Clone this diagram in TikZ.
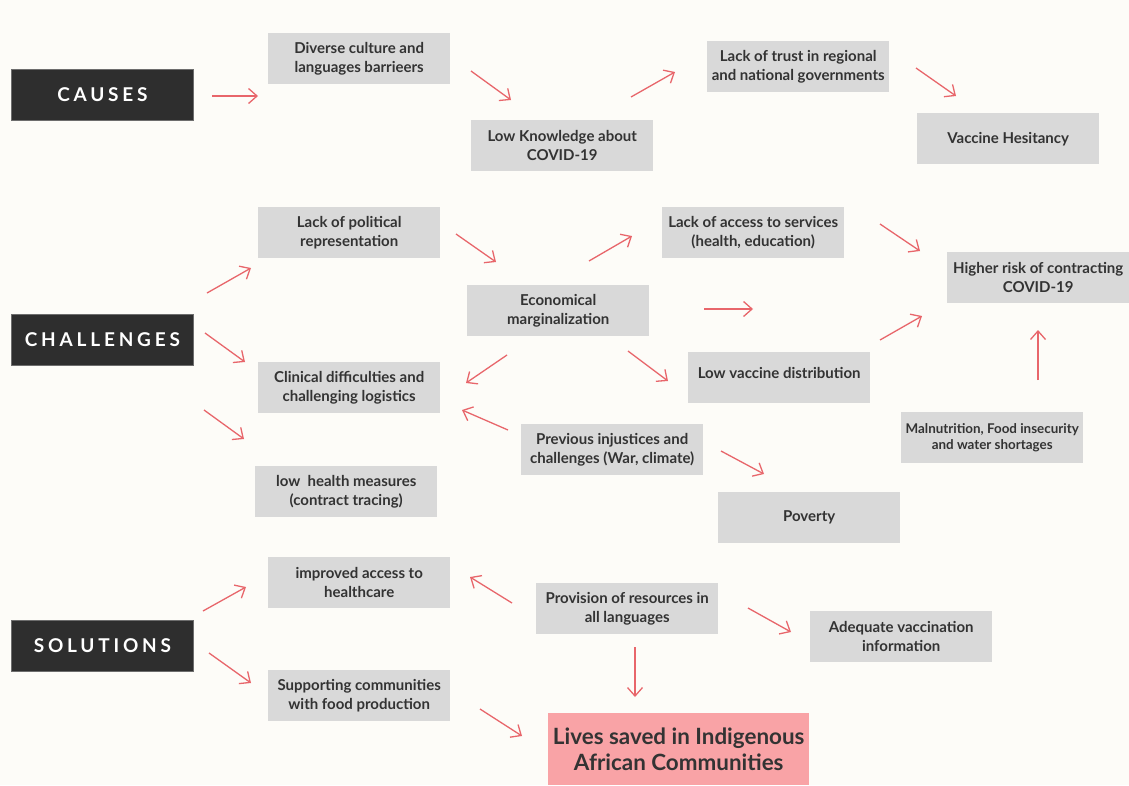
\documentclass[tikz,border=0pt]{standalone}
\usepackage{fontspec}
\setmainfont{Lato}
\newfontfamily\hdrfont[LetterSpace=20]{Lato}
\usetikzlibrary{arrows.meta}
\definecolor{bg}{HTML}{FDFCF8}
\definecolor{boxgray}{HTML}{D9D9D9}
\definecolor{dark}{HTML}{2E2E2E}
\definecolor{txt}{HTML}{333333}
\definecolor{arrred}{HTML}{E8666B}
\definecolor{pinkbox}{HTML}{F9A3A6}
\begin{document}
\begin{tikzpicture}[x=1pt,y=-1pt,
  gbox/.style={fill=boxgray, minimum width=182pt, minimum height=51pt, anchor=north west,
    inner sep=2pt, align=center, text=txt, font=\bfseries\fontsize{15}{18.5}\selectfont},
  smallbox/.style={gbox, font=\bfseries\fontsize{13.4}{16.5}\selectfont},
  hdrbox/.style={fill=dark, draw=dark!70, line width=0.8pt, minimum width=182pt, minimum height=51pt,
    anchor=north west, text=white, font=\hdrfont\bfseries\fontsize{19}{20}\selectfont},
  goalbox/.style={fill=pinkbox, minimum width=261pt, minimum height=72pt, anchor=north west,
    align=center, text=txt, font=\bfseries\fontsize{22.4}{26}\selectfont},
  arr/.style={draw=arrred, line width=1.3pt, -{Straight Barb[length=8.5pt,width=15pt]}}
]
\fill[bg] (0,0) rectangle (1129,785);
\useasboundingbox (0,0) rectangle (1129,785);

% headers
\node[hdrbox] (causes) at (11,69) {CAUSES};
\node[hdrbox] (chall) at (11,314) {CHALLENGES};
\node[hdrbox] (sol) at (11,620) {SOLUTIONS};

% causes
\node[gbox] (div) at (268,33) {Diverse culture and\\languages barrieers};
\node[gbox] (lowk) at (471,120) {Low Knowledge about\\COVID-19};
\node[gbox] (trust) at (707,41) {Lack of trust in regional\\and national governments};
\node[gbox] (vh) at (917,113) {Vaccine Hesitancy};

% challenges
\node[gbox] (lpr) at (258,207) {Lack of political\\representation};
\node[gbox] (econ) at (467,285) {Economical\\marginalization};
\node[gbox] (access) at (662,207) {Lack of access to services\\(health, education)};
\node[gbox] (risk) at (947,252) {Higher risk of contracting\\COVID-19};
\node[gbox] (lvd) at (688,352) {\raisebox{5pt}[\height][\depth]{Low vaccine distribution}};
\node[smallbox] (maln) at (901,412) {Malnutrition, Food insecurity\\and water shortages};
\node[gbox] (clin) at (258,362) {Clinical difficulties and\\challenging logistics};
\node[gbox] (prev) at (521,424) {Previous injustices and\\challenges (War, climate)};
\node[gbox] (pov) at (718,492) {Poverty};
\node[gbox] (lhm) at (255,466) {low\ \ health measures\\(contract tracing)};

% solutions
\node[gbox] (imp) at (268,557) {improved access to\\healthcare};
\node[gbox] (prov) at (536,583) {Provision of resources in\\all languages};
\node[gbox] (adeq) at (810,611) {Adequate vaccination\\information};
\node[gbox] (supp) at (268,670) {Supporting communities\\with food production};
\node[goalbox] (lives) at (548,713) {Lives saved in Indigenous\\African Communities};

% arrow end points
\coordinate (a1s) at (212,96);  \coordinate (a1e) at (258,96);
\coordinate (a2s) at (471,71);  \coordinate (a2e) at (511,100);
\coordinate (a3s) at (631,97);  \coordinate (a3e) at (675,72);
\coordinate (a4s) at (916,68);  \coordinate (a4e) at (956,96);
\coordinate (b1s) at (207,293); \coordinate (b1e) at (251,268);
\coordinate (b2s) at (456,234); \coordinate (b2e) at (496,262);
\coordinate (b3s) at (589,261); \coordinate (b3e) at (632,236);
\coordinate (b4s) at (880,224); \coordinate (b4e) at (920,251);
\coordinate (b5s) at (704,309); \coordinate (b5e) at (753,309);
\coordinate (b6s) at (628,351); \coordinate (b6e) at (668,381);
\coordinate (b7s) at (880,340); \coordinate (b7e) at (922,316);
\coordinate (b8s) at (1038,380); \coordinate (b8e) at (1038,330);
\coordinate (b9s) at (205,333); \coordinate (b9e) at (245,362);
\coordinate (b10s) at (507,355); \coordinate (b10e) at (466,383);
\coordinate (b11s) at (508,430); \coordinate (b11e) at (462,410);
\coordinate (b12s) at (721,451); \coordinate (b12e) at (764,474);
\coordinate (b13s) at (204,410); \coordinate (b13e) at (244,439);
\coordinate (c1s) at (203,611); \coordinate (c1e) at (246,587);
\coordinate (c2s) at (512,603); \coordinate (c2e) at (470,577);
\coordinate (c3s) at (748,608); \coordinate (c3e) at (791,632);
\coordinate (c4s) at (209,653); \coordinate (c4e) at (251,683);
\coordinate (c5s) at (480,709); \coordinate (c5e) at (522,736);
\coordinate (c6s) at (635,647); \coordinate (c6e) at (635,697);

\foreach \a in {a1,a2,a3,a4,b1,b2,b3,b4,b5,b6,b7,b8,b9,b10,b11,b12,b13,c1,c2,c3,c4,c5,c6}
  \draw[arr] (\a s) -- (\a e);
\end{tikzpicture}
\end{document}
